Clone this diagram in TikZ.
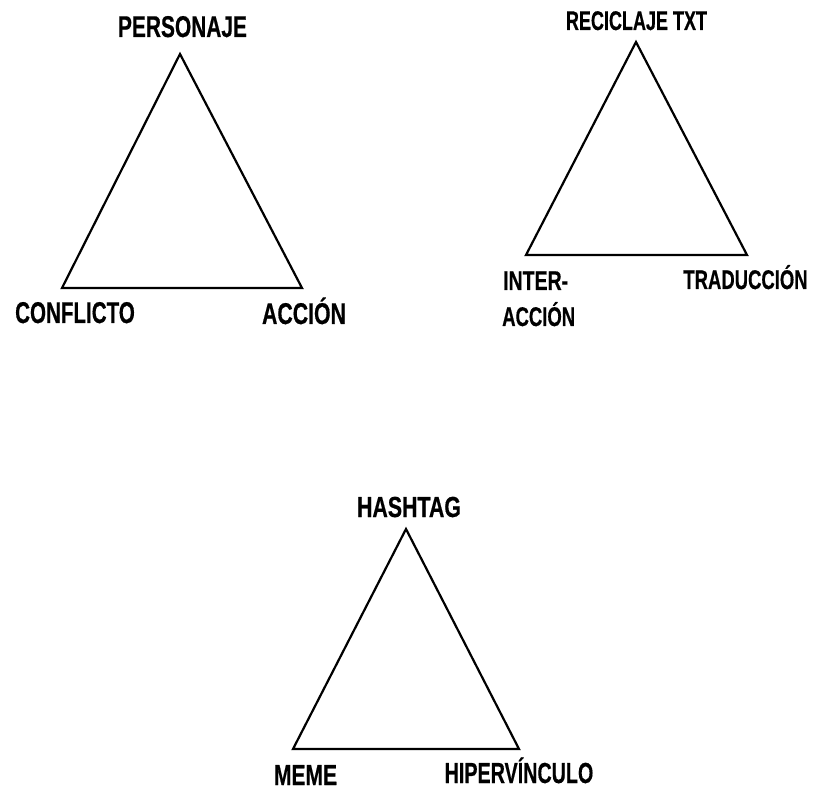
\documentclass[tikz,border=0pt]{standalone}
\usepackage{fontspec}
\setmainfont{Liberation Sans}[BoldFeatures={FakeBold=0.6}]
\newcommand\sqz[2]{\scalebox{#1}[1]{#2}}
\begin{document}
\begin{tikzpicture}[x=1pt,y=-1pt,
  lbl/.style={font=\bfseries\fontsize{29}{32}\selectfont, inner sep=0pt, anchor=base},
  lblA/.style={lbl, font=\bfseries\fontsize{30}{32}\selectfont},
  lblB/.style={lbl, font=\bfseries\fontsize{27}{30}\selectfont},
  tri/.style={line width=2.2pt, line join=miter}]
\useasboundingbox (0,0) rectangle (817,791);
% triangle 1
\coordinate (a1) at (180,54);
\coordinate (b1) at (62,288);
\coordinate (c1) at (302,288);
\draw[tri] (a1) -- (b1) -- (c1) -- cycle;
\node[lblA] (personaje) at (182.5,37) {\sqz{0.697}{PERSONAJE}};
\node[lblA] (conflicto) at (75,323) {\sqz{0.686}{CONFLICTO}};
\node[lblA] (accion) at (304,324) {\sqz{0.709}{ACCIÓN}};
% triangle 2
\coordinate (a2) at (636,42);
\coordinate (b2) at (526,255);
\coordinate (c2) at (747,255);
\draw[tri] (a2) -- (b2) -- (c2) -- cycle;
\node[lblB] (reciclaje) at (636.5,30) {\sqz{0.667}{RECICLAJE TXT}};
\node[lblB, anchor=base west] (inter) at (503,290) {\sqz{0.722}{INTER-}};
\node[lblB, anchor=base west] (interaccion) at (502,326) {\sqz{0.685}{ACCIÓN}};
\node[lblB] (traduccion) at (745.5,289) {\sqz{0.685}{TRADUCCIÓN}};
% triangle 3
\coordinate (a3) at (406,529);
\coordinate (b3) at (293,749);
\coordinate (c3) at (519,749);
\draw[tri] (a3) -- (b3) -- (c3) -- cycle;
\node[lbl] (hashtag) at (409,517) {\sqz{0.736}{HASHTAG}};
\node[lbl] (meme) at (305.5,785) {\sqz{0.726}{MEME}};
\node[lbl] (hipervinculo) at (519,783) {\sqz{0.68}{HIPERVÍNCULO}};
\end{tikzpicture}
\end{document}
